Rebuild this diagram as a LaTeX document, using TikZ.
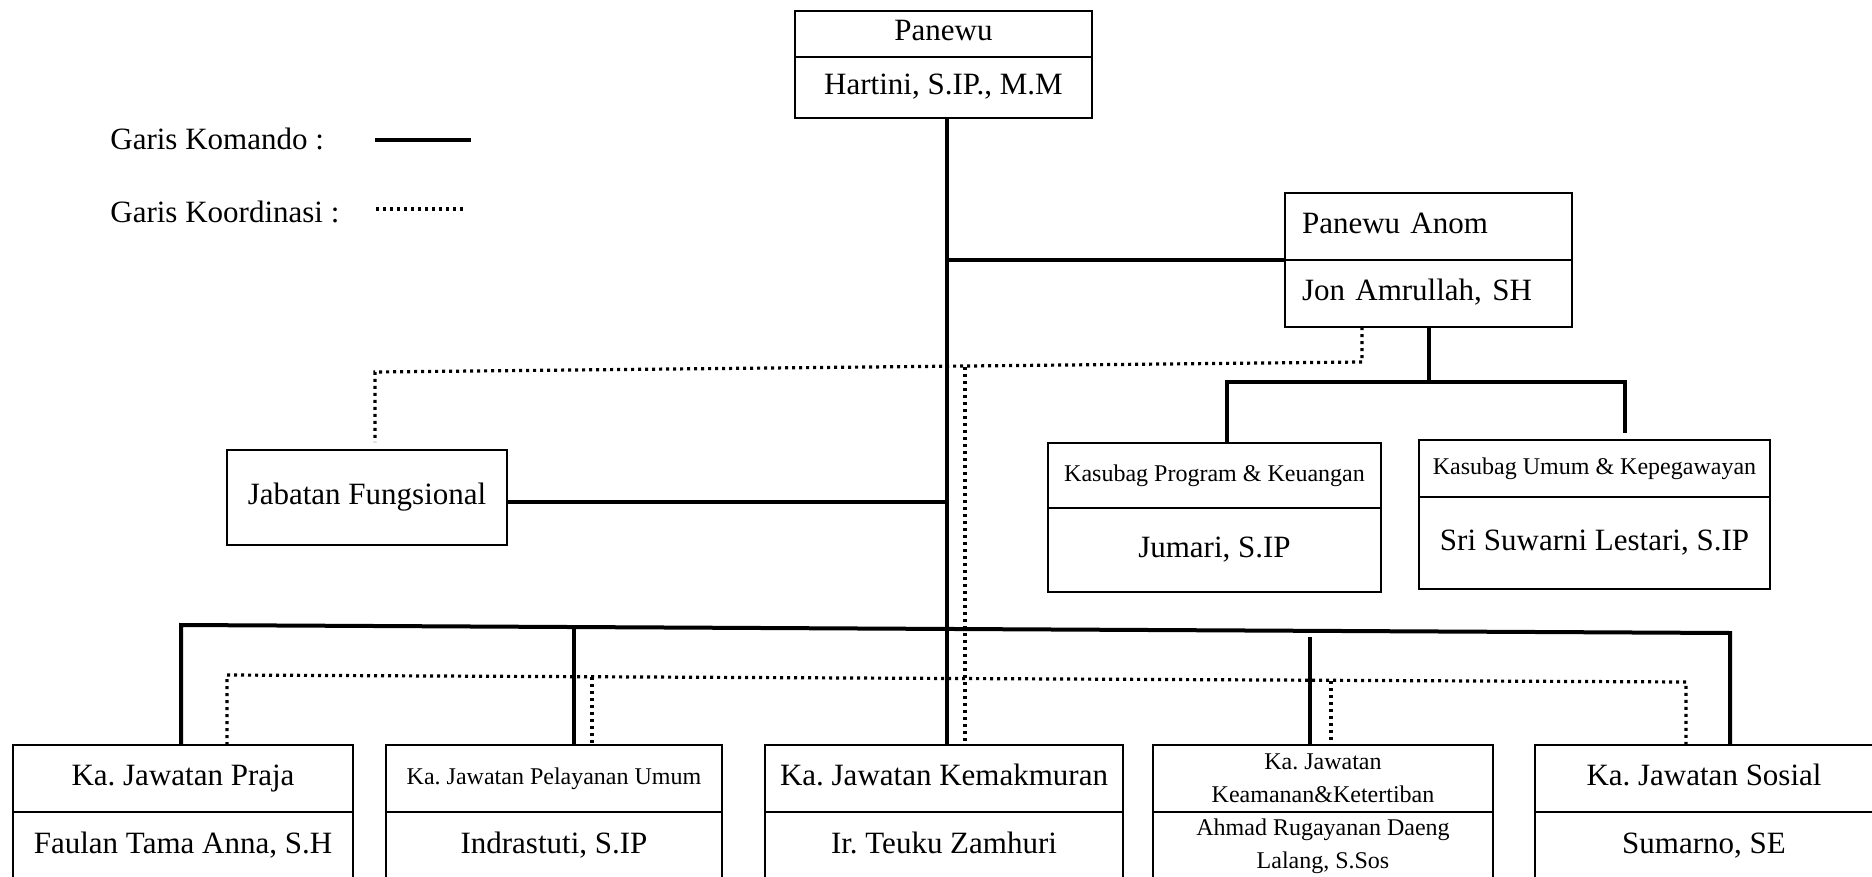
\documentclass[tikz,border=0pt]{standalone}
\usepackage{fontspec}
\setmainfont{Liberation Serif}
\usepackage{tikz}
\usetikzlibrary{positioning}
\frenchspacing
\newcommand{\fsbig}{\fontsize{15.5}{18}\selectfont}
\newcommand{\fssmall}{\fontsize{12}{16.5}\selectfont}
\tikzset{
    block/.style={
        draw, line width=1.3pt,
        inner sep=0pt, outer sep=0pt,
        align=center
    },
    boxsize/.style 2 args={minimum width=#1*0.5pt, minimum height=#2*0.5pt},
    bigtxt/.style={font=\fsbig, text height=11pt, text depth=4pt},
    smalltxt/.style={font=\fssmall, text height=8.5pt, text depth=3pt},
    anomtxt/.style={text width=126.5pt, align=left, inner xsep=8.5pt},
    komando/.style={line width=2pt},
    koordinasi/.style={line width=1.6pt, dash pattern=on 1.5pt off 2pt}
}

\begin{document}
\begin{tikzpicture}[x=0.5pt, y=-0.5pt]

    \useasboundingbox (0,0) rectangle (1872,877);
    \clip (0,0) rectangle (1872,877);
    \fill[white] (0,0) rectangle (1872,877);

    % Legend
    \node[bigtxt, inner sep=0pt, anchor=base west] (lgkom) at (110,150) {Garis Komando :};
    \node[bigtxt, inner sep=0pt, anchor=base west] (lgkoor) at (110,222) {Garis Koordinasi :};
    \draw[komando] (375,140) -- (471,140);
    \draw[koordinasi] (376,209) -- (467,209);

    % Panewu
    \node[block, bigtxt, boxsize={297}{46}] (panewu) at (943.5,34) {Panewu};
    \node[block, bigtxt, boxsize={297}{61}, below=0pt of panewu] (panewun) {Hartini, S.IP., M.M};

    % Panewu Anom
    \node[block, bigtxt, anomtxt, minimum height=33.5pt] (anom) at (1428.5,226.5) {Panewu Anom};
    \node[block, bigtxt, anomtxt, minimum height=33.5pt, below=0pt of anom] (anomn) {Jon Amrullah, SH};

    % Kasubag
    \node[block, smalltxt, boxsize={333}{65}] (prog) at (1214.5,475.5) {Kasubag Program \& Keuangan};
    \node[block, bigtxt, boxsize={333}{84}, below=0pt of prog] (progn) {Jumari, S.IP};
    \node[block, smalltxt, boxsize={351}{57}] (umum) at (1594.5,468.5) {Kasubag Umum \& Kepegawayan};
    \node[block, bigtxt, boxsize={351}{92}, below=0pt of umum] (umumn) {Sri Suwarni Lestari, S.IP};

    % Jabatan Fungsional
    \node[block, bigtxt, boxsize={280}{95}] (jabfung) at (367,497.5) {Jabatan Fungsional};

    % Ka. Jawatan
    \node[block, bigtxt, boxsize={340}{67}] (praja) at (183,778.5) {Ka. Jawatan Praja};
    \node[block, bigtxt, boxsize={340}{68}, below=0pt of praja] (prajan) {Faulan Tama Anna, S.H};
    \node[block, smalltxt, boxsize={336}{67}] (layan) at (554,778.5) {Ka. Jawatan Pelayanan Umum};
    \node[block, bigtxt, boxsize={336}{68}, below=0pt of layan] (layann) {Indrastuti, S.IP};
    \node[block, bigtxt, boxsize={358}{67}] (makmur) at (944,778.5) {Ka. Jawatan Kemakmuran};
    \node[block, bigtxt, boxsize={358}{68}, below=0pt of makmur] (makmurn) {Ir. Teuku Zamhuri};
    \node[block, font=\fssmall, boxsize={340}{67}] (aman) at (1323,778.5) {Ka. Jawatan\\Keamanan\&Ketertiban};
    \node[block, font=\fssmall, boxsize={340}{68}, below=0pt of aman] (amann) {Ahmad Rugayanan Daeng\\Lalang, S.Sos};
    \node[block, bigtxt, boxsize={338}{67}] (sosial) at (1704,778.5) {Ka. Jawatan Sosial};
    \node[block, bigtxt, boxsize={338}{68}, below=0pt of sosial] (sosialn) {Sumarno, SE};

    % Garis koordinasi
    \coordinate (d0) at (1362,362);
    \coordinate (d1) at (375,372);
    \draw[koordinasi] (d0 |- anomn.south) -- (d0) -- (d1) -- ([yshift=4pt]d1 |- jabfung.north);
    \coordinate (d2) at (965,367);
    \draw[koordinasi] (d2) -- (d2 |- makmur.north);
    \coordinate (e0) at (227,675);
    \coordinate (e1) at (1686,682);
    \draw[koordinasi] (e0 |- praja.north) -- (e0) -- (e1) -- (e1 |- sosial.north);
    \coordinate (e2) at (592,677);
    \draw[koordinasi] (e2) -- (e2 |- layan.north);
    \coordinate (e3) at (1331,681);
    \draw[koordinasi] (e3) -- (e3 |- aman.north);

    % Garis komando
    \coordinate (t0) at (947,0);
    \draw[komando] (t0 |- panewun.south) -- (t0 |- makmur.north);
    \draw[komando] (anom.south west) -- (t0 |- anom.south west);
    \draw[komando] ([yshift=-2pt]jabfung.east) coordinate (j0) -- (t0 |- j0);
    \coordinate (kl) at (1227,382);
    \coordinate (kr) at (1625,382);
    \draw[komando] (anomn.south) -- (anomn.south |- kl);
    \draw[komando] (kl |- prog.north) -- (kl) -- (kr) -- ([yshift=3.5pt]kr |- umum.north);
    \coordinate (bl) at (181,625);
    \coordinate (br) at (1730,633);
    \draw[komando] (bl |- praja.north) -- (bl) -- (br) -- (br |- sosial.north);
    \coordinate (b1) at (574,626);
    \draw[komando] (b1) -- (b1 |- layan.north);
    \coordinate (b3) at (1310,637);
    \draw[komando] (b3) -- (b3 |- aman.north);

\end{tikzpicture}
\end{document}
